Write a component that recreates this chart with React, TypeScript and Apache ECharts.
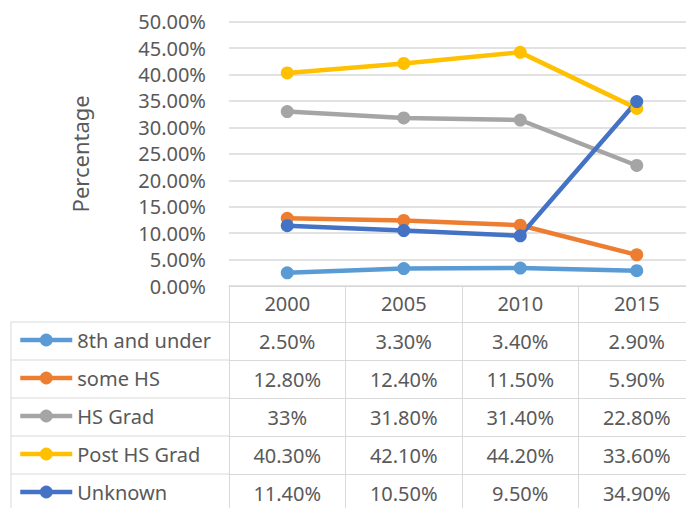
import React, { useEffect, useRef } from "react";
import * as echarts from "echarts";

const categories = ["2000", "2005", "2010", "2015"];
const seriesNames = ["8th and under", "some HS", "HS Grad", "Post HS Grad", "Unknown"];
const eighthAndUnder = [2.5, 3.3, 3.4, 2.9];
const someHS = [12.8, 12.4, 11.5, 5.9];
const hsGrad = [33, 31.8, 31.4, 22.8];
const postHSGrad = [40.3, 42.1, 44.2, 33.6];
const unknown = [11.4, 10.5, 9.5, 34.9];
const seriesValues = [eighthAndUnder, someHS, hsGrad, postHSGrad, unknown];
// decimals used in the data table cells (HS Grad 2000 shown as "33%")
const tableDecimals = [
  [2, 2, 2, 2],
  [2, 2, 2, 2],
  [0, 2, 2, 2],
  [2, 2, 2, 2],
  [2, 2, 2, 2],
];
const colors = ["#5B9BD5", "#ED7D31", "#A5A5A5", "#FFC000", "#4472C4"];

const FONT = "Noto Sans";
const TXT = "#595959";
const GRID = "#D9D9D9";

export default function App() {
  const ref = useRef<HTMLDivElement>(null);
  useEffect(() => {
    document.body.style.margin = "0";
    const chart = echarts.init(ref.current!, null, { renderer: "svg" });
    const gridLeft = 229;
    const gridTop = 21.7;
    const gridBottomY = 286;
    const rowH = 38;
    const headerH = 36;

    const tableAxes = seriesValues.map((vals, k) => ({
      type: "category",
      data: categories,
      gridIndex: 0,
      position: "bottom",
      offset: headerH + rowH * k,
      axisLine: { show: true, lineStyle: { color: GRID, width: 1 } },
      axisTick: { show: false },
      splitLine: { show: false },
      axisLabel: {
        margin: 9,
        fontSize: 20,
        fontFamily: FONT,
        color: TXT,
        formatter: (_v: string, i: number) => vals[i].toFixed(tableDecimals[k][i]) + "%",
      },
    }));

    const leftLines: any[] = [];
    for (let k = 0; k < 5; k++) {
      const y = gridBottomY + headerH + rowH * k;
      leftLines.push({
        type: "line",
        shape: { x1: 11, y1: y, x2: gridLeft, y2: y },
        style: { stroke: GRID, lineWidth: 1 },
      });
    }
    leftLines.push({
      type: "line",
      shape: { x1: 11, y1: gridBottomY + headerH, x2: 11, y2: 520 },
      style: { stroke: GRID, lineWidth: 1 },
    });

    const legends = seriesNames.map((name, k) => ({
      orient: "horizontal",
      left: 18,
      top: gridBottomY + headerH + rowH * k + 8,
      padding: 0,
      itemWidth: 52,
      itemHeight: 16,
      data: [name],
      lineStyle: { width: 4.5 },
      textStyle: { fontSize: 20, fontFamily: FONT, color: TXT },
    }));

    chart.setOption({
      animation: false,
      textStyle: { fontFamily: FONT },
      grid: {
        left: gridLeft,
        top: gridTop,
        width: 466,
        height: gridBottomY - gridTop,
        containLabel: false,
        outerBoundsMode: "none",
      },
      legend: legends,
      xAxis: [
        {
          type: "category",
          data: categories,
          boundaryGap: true,
          axisLine: { show: true, lineStyle: { color: GRID, width: 1 } },
          axisTick: { show: true, length: 240, lineStyle: { color: GRID, width: 1 } },
          axisLabel: { margin: 7, fontSize: 20, fontFamily: FONT, color: TXT },
          splitLine: { show: false },
        },
        ...tableAxes,
      ],
      yAxis: {
        type: "value",
        min: 0,
        max: 50,
        interval: 5,
        name: "Percentage",
        nameLocation: "middle",
        nameRotate: 90,
        nameGap: 138,
        nameTextStyle: { fontSize: 22, fontFamily: FONT, color: TXT },
        axisLine: { show: false },
        axisTick: { show: false },
        axisLabel: {
          margin: 23,
          fontSize: 20,
          fontFamily: FONT,
          color: TXT,
          formatter: (v: number) => v.toFixed(2) + "%",
        },
        splitLine: { lineStyle: { color: GRID, width: 1.5 } },
      },
      graphic: leftLines,
      series: seriesValues.map((vals, k) => ({
        name: seriesNames[k],
        type: "line",
        data: vals,
        symbol: "circle",
        symbolSize: 13,
        color: colors[k],
        lineStyle: { width: 4.5, color: colors[k] },
        itemStyle: { color: colors[k] },
      })),
    } as any);
    return () => chart.dispose();
  }, []);
  return <div ref={ref} style={{ width: 686, height: 508 }} />;
}
